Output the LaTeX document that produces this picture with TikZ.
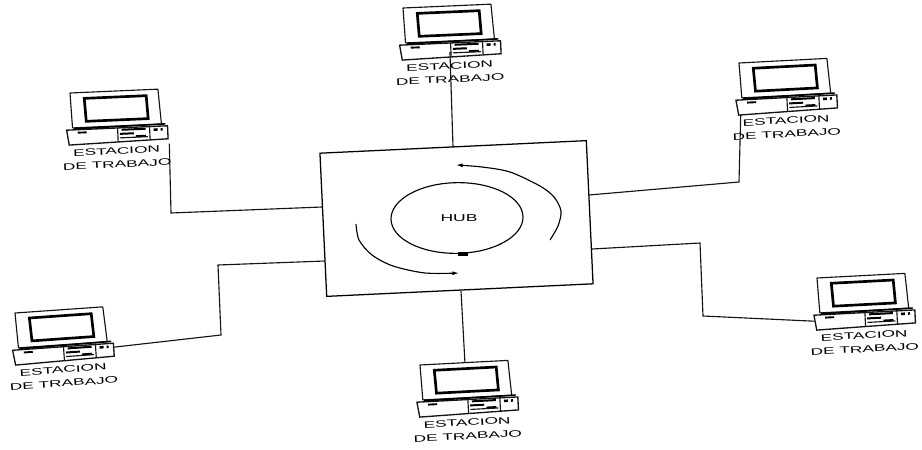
\documentclass[tikz,border=0pt]{standalone}
\usepackage{fontspec}
\setmainfont{Liberation Sans}
\usetikzlibrary{arrows.meta,calc,shapes.geometric}
\tikzset{
  x=0.75pt,y=0.75pt,
  ink/.style={draw=black!92,line width=0.85pt},
  heavy/.style={draw=black,line width=2pt},
  wire/.style={draw=black!92,line width=0.85pt},
  lbl/.style={inner sep=0pt,font=\fontsize{7}{8}\selectfont,xscale=1.85,transform shape},
  workstation/.pic={
    \draw[ink,line join=round] (0,0)--(88,0)--(90,-35)--(1,-35)--cycle;
    \draw[heavy] (14,-6)--(76,-6)--(77,-29)--(15,-29)--cycle;
    \draw[ink,line width=1pt] (-5,-37)--(96,-37)--(96,-50)--(-3,-52)--cycle;
    \draw[heavy,line width=1.2pt] (2,-36)--(94,-35);
    \draw[heavy,line width=1.4pt] (6,-40)--(15,-40);
    \draw[ink] (46,-37)--(46,-51) (78,-36)--(78,-50);
    \draw[heavy,line width=1.5pt] (50,-39)--(74,-39) (48,-43)--(62,-43) (64,-46)--(74,-46);
    \draw[ink] (48,-47)--(76,-47);
    \fill (82,-39) rectangle (86,-41.5) (89,-39) rectangle (91,-41.5);
    \node[lbl] (-l1) at (44,-60) {ESTACION};
    \node[lbl] (-l2) at (44,-73.5) {DE TRABAJO};
    \coordinate (-top) at (45,0);
    \coordinate (-mid) at (45,-46);
    \coordinate (-left) at (-5,-43);
    \coordinate (-right) at (96,-41);
    \coordinate (-lowright) at (97,-55);
    \coordinate (-lowleft) at (-1,-52);
  }
}
\begin{document}
\begin{tikzpicture}
\useasboundingbox (0,0) rectangle (922,-450);
% hub
\node[draw=black,line width=0.95pt,minimum width=200pt,minimum height=107.5pt,inner sep=0pt,rotate=2.7] (hub) at (456.5,-218.5) {};
\node[draw=black,line width=0.85pt,ellipse,minimum width=99pt,minimum height=53pt,inner sep=0pt,rotate=1] (core) at (457,-218) {};
\node[inner sep=0pt,font=\fontsize{7.5}{9}\selectfont,xscale=1.75] (hubl) at (459,-218) {HUB};
\draw[line width=0.85pt,-{Latex[length=5pt,width=3pt]}] plot[smooth] coordinates {(550,-240) (558,-226) (561,-211) (554,-197) (540,-186) (510,-172) (482,-167) (456,-165)};
\draw[line width=0.85pt,-{Latex[length=5pt,width=3pt]}] plot[smooth] coordinates {(356,-224) (359,-240) (372,-255) (393,-266) (425,-273) (459,-273)};
\fill (458,-256) rectangle (468,-252);
% workstations
\pic[rotate=2.5] (top) at (403,-8) {workstation};
\pic[rotate=2.5] (nw) at (70,-93) {workstation};
\pic[rotate=3] (ne) at (739,-63) {workstation};
\pic[rotate=4] (sw) at (15,-313) {workstation};
\pic[rotate=3] (south) at (420,-365) {workstation};
\pic[rotate=3] (se) at (817,-278) {workstation};
% bends
\coordinate (b1) at (171,-213);
\coordinate (h1) at (322,-207);
\coordinate (b2) at (739,-182);
\coordinate (h2) at (589,-195);
\coordinate (b3) at (218,-265);
\coordinate (b3a) at (221,-335);
\coordinate (h3) at (325,-261);
\coordinate (b4) at (700,-243);
\coordinate (b4a) at (703,-316);
\coordinate (h4) at (592,-249);
\coordinate (h5) at (453,-147);
\coordinate (h6) at (461,-291);
% connectors
\draw[wire] (top-mid) -- (h5);
\draw[wire] (nw-lowright) -- (b1) -- (h1);
\draw[wire] (ne-lowleft) -- (b2) -- (h2);
\draw[wire] (sw-right) -- (b3a) -- (b3) -- (h3);
\draw[wire] (se-left) -- (b4a) -- (b4) -- (h4);
\draw[wire] (south-top) -- (h6);
\end{tikzpicture}
\end{document}
